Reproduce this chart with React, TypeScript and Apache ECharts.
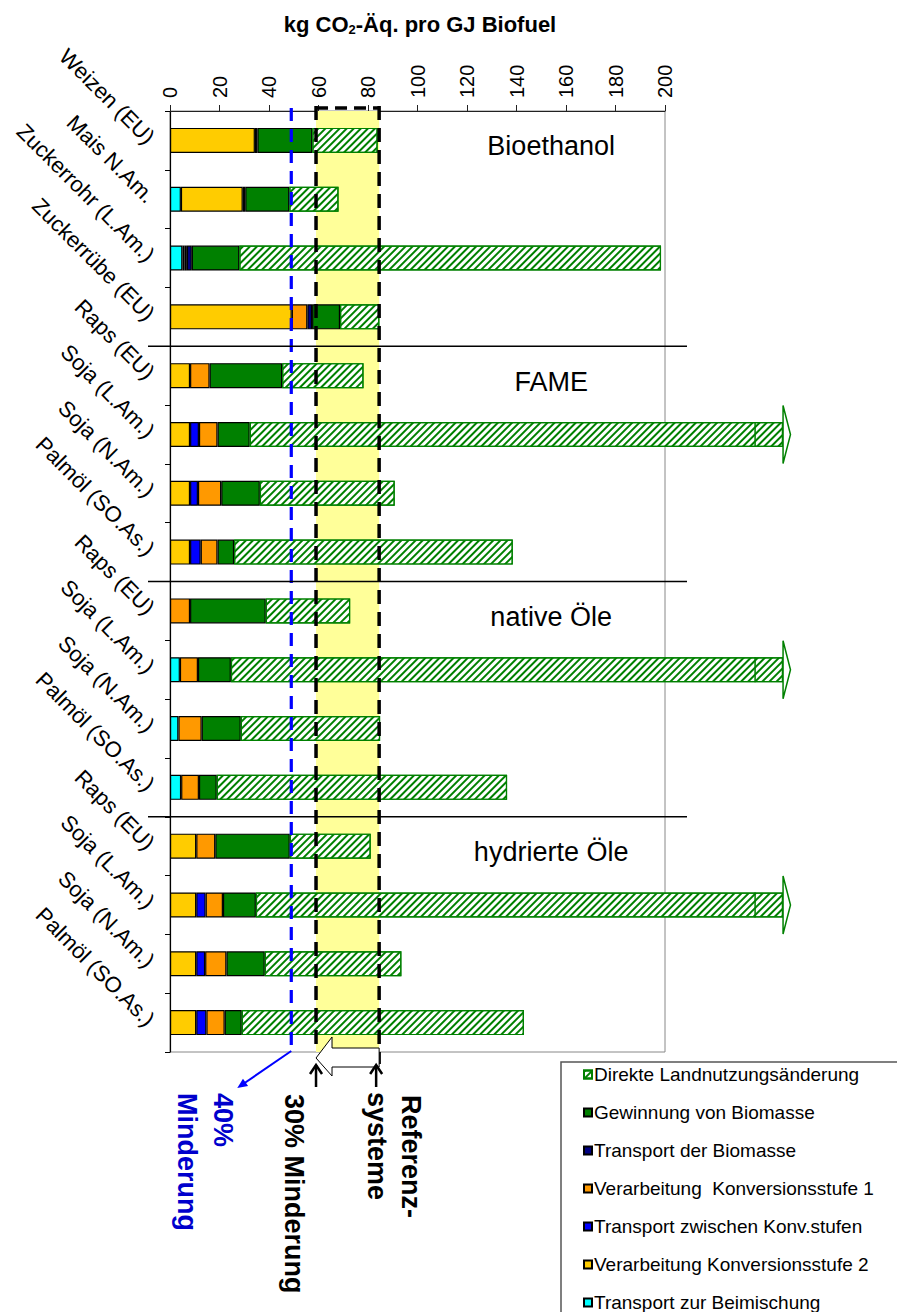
import React, { useEffect, useRef } from 'react';
import * as echarts from 'echarts';

const FONT = 'Arial, "Liberation Sans", Helvetica, sans-serif';

const categories = [
  'Weizen (EU)', 'Mais N.Am.', 'Zuckerrohr (L.Am.)', 'Zuckerrübe (EU)',
  'Raps (EU)', 'Soja (L.Am.)', 'Soja (N.Am.)', 'Palmöl (SO.As.)',
  'Raps (EU)', 'Soja (L.Am.)', 'Soja (N.Am.)', 'Palmöl (SO.As.)',
  'Raps (EU)', 'Soja (L.Am.)', 'Soja (N.Am.)', 'Palmöl (SO.As.)',
];
const groupNames = ['Bioethanol', 'FAME', 'native Öle', 'hydrierte Öle'];
const groupSizes = [4, 4, 4, 4];

const xTicks = { min: 0, max: 200, interval: 20 };

// kg CO2-Äq. / GJ, segments in stacking order (left to right)
const transportBeimischung = [0, 4.4, 5.0, 0, 0, 0, 0, 0, 0, 4.0, 3.4, 4.5, 0, 0, 0, 0];
const verarbeitung2 = [34.3, 25.0, 0.9, 49.2, 8.1, 8.1, 8.1, 8.1, 0, 0, 0, 0, 10.6, 10.6, 10.6, 10.6];
const transportKonv = [0, 0, 0, 0, 0, 3.6, 3.2, 4.3, 0, 0, 0, 0, 0, 3.8, 3.6, 4.1];
const verarbeitung1 = [0, 0, 0.9, 6.3, 7.9, 7.5, 9.4, 6.8, 8.1, 7.3, 9.4, 7.2, 7.7, 7.0, 8.6, 7.4];
const transportBiomasse = [1.0, 1.0, 2.0, 1.9, 0, 0, 0, 0, 0, 0, 0, 0, 0, 0, 0, 0];
const gewinnung = [22.2, 17.8, 19.2, 11.3, 29.3, 13.0, 15.6, 6.7, 30.6, 13.3, 15.8, 7.2, 30.1, 13.3, 15.5, 6.9];
const landnutzung = [26.4, 19.9, 170.4, 15.9, 32.9, 215.5, 54.5, 112.6, 34.1, 223.1, 56.3, 117.3, 32.7, 213.0, 55.2, 114.0];
// bars whose value runs off the scale (drawn as a capped bar with an arrow)
const offScale = [false, false, false, false, false, true, false, false, false, true, false, false, false, true, false, false];

// reference system, 30 % reduction, 40 % reduction
const referenceValue = 84.5;
const reduction30Value = 59;
const reduction40Value = 49;

const legendOrder = [
  'Direkte Landnutzungsänderung',
  'Gewinnung von Biomasse',
  'Transport der Biomasse',
  'Verarbeitung  Konversionsstufe 1',
  'Transport zwischen Konv.stufen',
  'Verarbeitung Konversionsstufe 2',
  'Transport zur Beimischung',
];

const segments = [
  { name: 'Transport zur Beimischung', values: transportBeimischung, color: '#00FFFF' },
  { name: 'Verarbeitung Konversionsstufe 2', values: verarbeitung2, color: '#FFCC00' },
  { name: 'Transport zwischen Konv.stufen', values: transportKonv, color: '#0000FF' },
  { name: 'Verarbeitung  Konversionsstufe 1', values: verarbeitung1, color: '#FF9900' },
  { name: 'Transport der Biomasse', values: transportBiomasse, color: '#000080' },
  { name: 'Gewinnung von Biomasse', values: gewinnung, color: '#008000' },
];

const GREEN = '#008000';
const hatchDecal = {
  symbol: 'rect',
  symbolSize: 1,
  color: GREEN,
  backgroundColor: '#ffffff',
  dashArrayX: [1, 0],
  dashArrayY: [2, 3],
  rotation: -Math.PI / 4,
};

export default function App() {
  const ref = useRef<HTMLDivElement>(null);

  useEffect(() => {
    if (!ref.current) return;
    const chart = echarts.init(ref.current, null, { renderer: 'svg' });

    const totals = categories.map((_, i) =>
      segments.reduce((s, seg) => s + seg.values[i], 0) + landnutzung[i]
    );
    const arrowData = offScale
      .map((f, i) => (f ? [totals[i], i] : null))
      .filter((d) => d !== null);

    const barSeries: any[] = segments.map((seg) => ({
      type: 'bar',
      name: seg.name,
      stack: 'total',
      barWidth: 25,
      clip: false,
      z: 3,
      data: seg.values.map((v) => (v === 0 ? '-' : v)),
      itemStyle: { color: seg.color, borderColor: '#000', borderWidth: 1.2 },
    }));
    barSeries.push({
      type: 'bar',
      name: 'Direkte Landnutzungsänderung',
      stack: 'total',
      barWidth: 25,
      clip: false,
      z: 3,
      data: landnutzung,
      itemStyle: { color: '#ffffff', borderColor: GREEN, borderWidth: 1.2, decal: hatchDecal },
    });

    const bandSeries = {
      type: 'custom',
      z: 1,
      silent: true,
      data: [[reduction30Value, 0, referenceValue]],
      renderItem: (params: any, api: any) => {
        const cs = params.coordSys;
        const x1 = api.coord([api.value(0), 0])[0];
        const x2 = api.coord([api.value(2), 0])[0];
        return {
          type: 'rect',
          shape: { x: x1, y: cs.y, width: x2 - x1, height: cs.height },
          style: { fill: '#FFFF99' },
        };
      },
    };

    const arrowSeries = {
      type: 'custom',
      z: 4,
      silent: true,
      data: arrowData,
      renderItem: (params: any, api: any) => {
        const end = api.value(0);
        const idx = api.value(1);
        const pBody = api.coord([end - 11.3, idx]);
        const pEnd = api.coord([end, idx]);
        const pTip = api.coord([end + 3, idx]);
        const hb = 12.5;
        const hh = 29;
        return {
          type: 'group',
          children: [
            {
              type: 'line',
              shape: { x1: pBody[0], y1: pBody[1] - hb, x2: pBody[0], y2: pBody[1] + hb },
              style: { stroke: GREEN, lineWidth: 1.5 },
            },
            {
              type: 'polygon',
              shape: { points: [[pEnd[0], pEnd[1] - hh], [pTip[0], pTip[1]], [pEnd[0], pEnd[1] + hh]] },
              style: { fill: '#ffffff', stroke: GREEN, lineWidth: 1.5 },
            },
          ],
        };
      },
    };

    const overlaySeries = {
      type: 'custom',
      z: 6,
      silent: true,
      data: [[0, 0]],
      renderItem: (params: any, api: any) => {
        const cs = params.coordSys;
        const top = cs.y;
        const bottom = cs.y + cs.height;
        const bandH = api.size([0, 1])[1];
        const xRef = api.coord([referenceValue, 0])[0];
        const x30 = api.coord([reduction30Value, 0])[0];
        const x40 = api.coord([reduction40Value, 0])[0];
        const children: any[] = [];

        children.push({
          type: 'line',
          shape: { x1: x30, y1: top - 5, x2: x30, y2: bottom },
          style: { stroke: '#000', lineWidth: 3.5, lineDash: [14, 8] },
        });
        children.push({
          type: 'line',
          shape: { x1: xRef, y1: top - 5, x2: xRef, y2: bottom + 12 },
          style: { stroke: '#000', lineWidth: 3.5, lineDash: [14, 8] },
        });
        children.push({
          type: 'line',
          shape: { x1: x30, y1: top - 3, x2: xRef, y2: top - 3 },
          style: { stroke: '#000', lineWidth: 3.5, lineDash: [12, 7] },
        });
        children.push({
          type: 'line',
          shape: { x1: x40, y1: top - 3, x2: x40, y2: bottom - 2 },
          style: { stroke: '#0000FF', lineWidth: 3.2, lineDash: [13, 8] },
        });

        let acc = 0;
        for (let g = 0; g < groupSizes.length - 1; g++) {
          acc += groupSizes[g];
          const y = api.coord([0, acc - 1])[1] + bandH / 2;
          children.push({
            type: 'line',
            shape: { x1: cs.x - 22, y1: y, x2: cs.x + cs.width + 22, y2: y },
            style: { stroke: '#000', lineWidth: 1.5 },
          });
        }

        let start = 0;
        groupNames.forEach((name, g) => {
          const p = api.coord([154, start]);
          children.push({
            type: 'text',
            x: p[0],
            y: p[1] + 6,
            style: {
              text: name,
              fontSize: 27,
              fontFamily: FONT,
              fill: '#000',
              align: 'center',
              verticalAlign: 'middle',
            },
          });
          start += groupSizes[g];
        });

        const hx = x30 + 16;
        children.push({
          type: 'polygon',
          shape: {
            points: [
              [x30, bottom + 6],
              [hx, bottom - 15],
              [hx, bottom - 4],
              [xRef, bottom - 4],
              [xRef, bottom + 15],
              [hx, bottom + 15],
              [hx, bottom + 24],
            ],
          },
          style: { fill: '#ffffff', stroke: '#000', lineWidth: 1 },
        });

        [x30, xRef - 3].forEach((ax) => {
          children.push({
            type: 'line',
            shape: { x1: ax, y1: bottom + 35, x2: ax, y2: bottom + 13 },
            style: { stroke: '#000', lineWidth: 2.5 },
          });
          children.push({
            type: 'polyline',
            shape: { points: [[ax - 6, bottom + 22], [ax, bottom + 13], [ax + 6, bottom + 22]] },
            style: { stroke: '#000', lineWidth: 2.5, fill: null },
          });
        });

        const bx0 = x40;
        const by0 = bottom - 1;
        const bx1 = x40 - 54;
        const by1 = bottom + 36;
        const dx = bx1 - bx0;
        const dy = by1 - by0;
        const len = Math.sqrt(dx * dx + dy * dy);
        const ux = dx / len;
        const uy = dy / len;
        children.push({
          type: 'line',
          shape: { x1: bx0, y1: by0, x2: bx1 - ux * 4, y2: by1 - uy * 4 },
          style: { stroke: '#0000FF', lineWidth: 2 },
        });
        const hl = 10;
        const hw = 4.5;
        children.push({
          type: 'polygon',
          shape: {
            points: [
              [bx1, by1],
              [bx1 - ux * hl - uy * hw, by1 - uy * hl + ux * hw],
              [bx1 - ux * hl + uy * hw, by1 - uy * hl - ux * hw],
            ],
          },
          style: { fill: '#0000FF' },
        });

        return { type: 'group', children };
      },
    };

    const rotText = (text: string, x: number, y: number, color: string) => ({
      type: 'text',
      x,
      y,
      rotation: -Math.PI / 2,
      style: {
        text,
        fontSize: 27,
        fontWeight: 'bold',
        fontFamily: FONT,
        fill: color,
        align: 'left',
        verticalAlign: 'middle',
      },
    });

    chart.setOption({
      animation: false,
      textStyle: { fontFamily: FONT },
      grid: {
        left: 170,
        right: 232,
        top: 111,
        bottom: 260,
        show: true,
        borderColor: '#888',
        borderWidth: 1,
        backgroundColor: 'transparent',
      },
      xAxis: {
        type: 'value',
        position: 'top',
        min: xTicks.min,
        max: xTicks.max,
        interval: xTicks.interval,
        axisLine: { show: true, lineStyle: { color: '#222', width: 1 } },
        axisTick: { show: true, length: 6, lineStyle: { color: '#222' } },
        axisLabel: { rotate: -90, fontSize: 20, color: '#000', fontFamily: FONT, margin: 13 },
        splitLine: { show: false },
      },
      yAxis: {
        type: 'category',
        data: categories,
        inverse: true,
        axisLine: { show: true, lineStyle: { color: '#000', width: 1.2 } },
        axisTick: { show: true, length: 5, lineStyle: { color: '#000' } },
        axisLabel: { rotate: -45, fontSize: 22, color: '#000', fontFamily: FONT, margin: 19, interval: 0 },
      },
      legend: {
        orient: 'vertical',
        left: 583,
        top: 1065,
        height: 280,
        padding: 0,
        itemWidth: 8,
        itemHeight: 8,
        itemGap: 19,
        icon: 'rect',
        selectedMode: false,
        data: legendOrder,
        textStyle: { fontSize: 19, color: '#000', fontFamily: FONT, padding: [0, 0, 0, -3] },
      },
      graphic: [
        {
          type: 'text',
          x: 420,
          y: 26,
          style: {
            text: '{a|kg CO}{s|2}{a|-Äq. pro GJ Biofuel}',
            align: 'center',
            verticalAlign: 'middle',
            rich: {
              a: { fontSize: 22, fontWeight: 'bold', fontFamily: FONT, fill: '#000', lineHeight: 26, verticalAlign: 'top' },
              s: { fontSize: 13, fontWeight: 'bold', fontFamily: FONT, fill: '#000', lineHeight: 14, padding: [10, 0, 0, 0], verticalAlign: 'top' },
            },
          },
        },
        {
          type: 'rect',
          shape: { x: 561, y: 1062, width: 400, height: 300 },
          style: { fill: 'none', stroke: '#555', lineWidth: 1.5 },
          z: -1,
        },
        rotText('40%', 223, 1093, '#0000CC'),
        rotText('Minderung', 187, 1093, '#0000CC'),
        rotText('30% Minderung', 294, 1094, '#000'),
        rotText('Referenz-', 411, 1095, '#000'),
        rotText('systeme', 377, 1092, '#000'),
      ],
      series: [bandSeries, ...barSeries, arrowSeries, overlaySeries],
    });

    return () => chart.dispose();
  }, []);

  return (
    <div
      ref={ref}
      style={{ position: 'absolute', left: 0, top: 0, width: 897, height: 1312, background: '#fff' }}
    />
  );
}
